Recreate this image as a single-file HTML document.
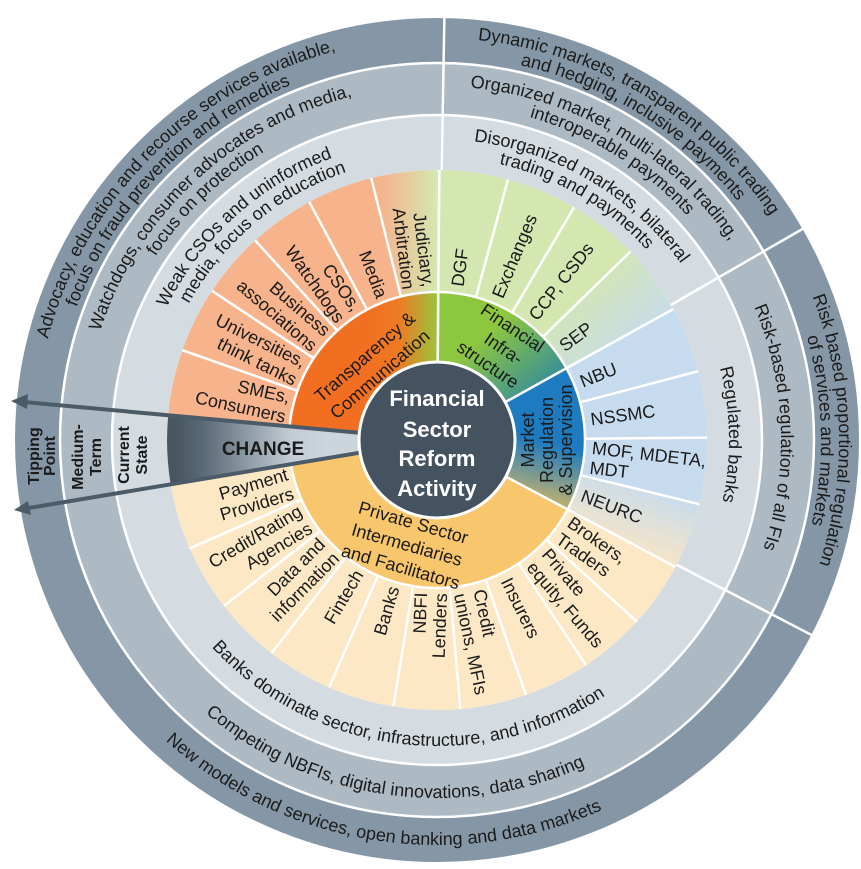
<!DOCTYPE html>
<html><head><meta charset="utf-8"><style>
html,body{margin:0;padding:0;background:#fff;}
svg{display:block;font-family:"Liberation Sans",sans-serif;}
.s{font-size:18px;fill:#1b1b1b;}
.r{font-size:18px;fill:#1b1b1b;}
.i{font-size:18px;fill:#1b1b1b;}
.w{font-size:16px;font-weight:bold;fill:#1b1b1b;}
</style></head><body>
<svg width="861" height="869" viewBox="0 0 861 869" xmlns="http://www.w3.org/2000/svg">
<defs>
<linearGradient id="gJud" gradientUnits="userSpaceOnUse" x1="-55" y1="0" x2="0" y2="0"><stop offset="0" stop-color="#f4b58e"/><stop offset="1" stop-color="#d4e7b0"/></linearGradient>
<linearGradient id="gSep" gradientUnits="userSpaceOnUse" x1="140" y1="-160" x2="205" y2="-90"><stop offset="0" stop-color="#d4e7b0"/><stop offset="1" stop-color="#c6dbee"/></linearGradient>
<linearGradient id="gNeu" gradientUnits="userSpaceOnUse" x1="205" y1="40" x2="180" y2="115"><stop offset="0" stop-color="#c6dbee"/><stop offset="1" stop-color="#fbe6c3"/></linearGradient>
<linearGradient id="gOr" gradientUnits="userSpaceOnUse" x1="-70" y1="0" x2="0" y2="0"><stop offset="0" stop-color="#f26f21"/><stop offset="0.45" stop-color="#ee7a24"/><stop offset="1" stop-color="#9cc23c"/></linearGradient>
<linearGradient id="gGr" gradientUnits="userSpaceOnUse" x1="60" y1="-115" x2="120" y2="-45"><stop offset="0" stop-color="#8dc63f"/><stop offset="1" stop-color="#2b86a6"/></linearGradient>
<linearGradient id="gBl" gradientUnits="userSpaceOnUse" x1="120" y1="5" x2="105" y2="65"><stop offset="0" stop-color="#1f7bc0"/><stop offset="1" stop-color="#c7b36a"/></linearGradient>
<linearGradient id="gCh" gradientUnits="userSpaceOnUse" x1="175" y1="0" x2="330" y2="0"><stop offset="0" stop-color="#47565f"/><stop offset="0.2" stop-color="#5d6d79"/><stop offset="0.75" stop-color="#c3ccd4"/><stop offset="1" stop-color="#cdd5dc"/></linearGradient>
<path id="cw402" d="M -402 0 A 402 402 0 1 1 402 0 A 402 402 0 1 1 -402 0"/>
<path id="cw384" d="M -384 0 A 384 384 0 1 1 384 0 A 384 384 0 1 1 -384 0"/>
<path id="cw354" d="M -354 0 A 354 354 0 1 1 354 0 A 354 354 0 1 1 -354 0"/>
<path id="cw336" d="M -336 0 A 336 336 0 1 1 336 0 A 336 336 0 1 1 -336 0"/>
<path id="cw301" d="M -301 0 A 301 301 0 1 1 301 0 A 301 301 0 1 1 -301 0"/>
<path id="cw283" d="M -283 0 A 283 283 0 1 1 283 0 A 283 283 0 1 1 -283 0"/>
<path id="cw344" d="M -344 0 A 344 344 0 1 1 344 0 A 344 344 0 1 1 -344 0"/>
<path id="cw292" d="M -292 0 A 292 292 0 1 1 292 0 A 292 292 0 1 1 -292 0"/>
<path id="ccw306" d="M -306 0 A 306 306 0 0 0 306 0"/>
<path id="ccw358" d="M -358 0 A 358 358 0 0 0 358 0"/>
<path id="ccw405" d="M -405 0 A 405 405 0 0 0 405 0"/>
</defs>
<g transform="translate(437,440)">
<circle r="400" fill="none" stroke="#8597a6" stroke-width="44"/>
<circle r="351" fill="none" stroke="#adb9c3" stroke-width="52"/>
<circle r="297.5" fill="none" stroke="#d5dce1" stroke-width="55"/>
<circle r="377" fill="none" stroke="#fff" stroke-width="2.5"/>
<circle r="325" fill="none" stroke="#fff" stroke-width="2.5"/>
<g stroke="#fff" stroke-width="2.5">
<line x1="268" x2="423" transform="rotate(271)"/>
<line x1="268" x2="423" transform="rotate(330)"/>
<line x1="268" x2="423" transform="rotate(27.5)"/>
</g>
<g fill="none" stroke-width="122">
<circle r="209" pathLength="360" stroke="#f7b48c" stroke-dasharray="70.6 289.4" stroke-dashoffset="-185.3"/>
<circle r="209" pathLength="360" stroke="url(#gJud)" stroke-dasharray="14.1 345.9" stroke-dashoffset="-255.9"/>
<circle r="209" pathLength="360" stroke="#d4e7b0" stroke-dasharray="45.75 314.25" stroke-dashoffset="-270"/>
<circle r="209" pathLength="360" stroke="url(#gSep)" stroke-dasharray="15.25 344.75" stroke-dashoffset="-315.75"/>
<circle r="209" pathLength="360" stroke="#c6dbee" stroke-dasharray="42.75 317.25" stroke-dashoffset="-331"/>
<circle r="209" pathLength="360" stroke="url(#gNeu)" stroke-dasharray="14.25 345.75" stroke-dashoffset="-13.75"/>
<circle r="209" pathLength="360" stroke="#fde8c6" stroke-dasharray="142.6 217.4" stroke-dashoffset="-28"/>
</g>
<g fill="none" stroke-width="70">
<circle r="113" pathLength="360" stroke="url(#gOr)" stroke-dasharray="84.7 275.3" stroke-dashoffset="-185.3"/>
<circle r="113" pathLength="360" stroke="url(#gGr)" stroke-dasharray="61 299" stroke-dashoffset="-270"/>
<circle r="113" pathLength="360" stroke="url(#gBl)" stroke-dasharray="57 303" stroke-dashoffset="-331"/>
<circle r="113" pathLength="360" stroke="#f8c66c" stroke-dasharray="142.6 217.4" stroke-dashoffset="-28"/>
</g>
<circle r="148" fill="none" stroke="#fff" stroke-width="2.5"/>
<g stroke="#fff" stroke-width="2.5">
<line x1="148" x2="270" transform="rotate(199.42)"/><line x1="148" x2="270" transform="rotate(213.54)"/><line x1="148" x2="270" transform="rotate(227.66)"/><line x1="148" x2="270" transform="rotate(241.78)"/><line x1="148" x2="270" transform="rotate(255.9)"/>
<line x1="148" x2="270" transform="rotate(285.25)"/><line x1="148" x2="270" transform="rotate(300.5)"/><line x1="148" x2="270" transform="rotate(315.75)"/>
<line x1="148" x2="270" transform="rotate(345.25)"/><line x1="148" x2="270" transform="rotate(359.5)"/><line x1="148" x2="270" transform="rotate(373.75)"/>
<line x1="148" x2="270" transform="rotate(42.26)"/><line x1="148" x2="270" transform="rotate(56.52)"/><line x1="148" x2="270" transform="rotate(70.78)"/><line x1="148" x2="270" transform="rotate(85.04)"/><line x1="148" x2="270" transform="rotate(99.3)"/><line x1="148" x2="270" transform="rotate(113.56)"/><line x1="148" x2="270" transform="rotate(127.82)"/><line x1="148" x2="270" transform="rotate(142.08)"/><line x1="148" x2="270" transform="rotate(156.34)"/>
<line x1="76" x2="270" transform="rotate(270.5)"/><line x1="76" x2="270" transform="rotate(331)"/><line x1="76" x2="270" transform="rotate(28)"/>
</g>

<g class="r" text-anchor="middle">
<text><textPath href="#cw402" startOffset="12.5%">Advocacy, education and recourse services available,</textPath></text>
<text><textPath href="#cw384" startOffset="12.2%">focus on fraud prevention and remedies</textPath></text>
<text><textPath href="#cw354" startOffset="13.06%">Watchdogs, consumer advocates and media,</textPath></text>
<text><textPath href="#cw336" startOffset="12.8%">focus on protection</textPath></text>
<text><textPath href="#cw301" startOffset="13.3%">Weak CSOs and uninformed</textPath></text>
<text><textPath href="#cw283" startOffset="13.9%">media, focus on education</textPath></text>
<text><textPath href="#cw402" startOffset="33.6%">Dynamic markets, transparent public trading</textPath></text>
<text><textPath href="#cw384" startOffset="33.9%">and hedging, inclusive payments</textPath></text>
<text><textPath href="#cw354" startOffset="33.5%">Organized market, multi-lateral trading,</textPath></text>
<text><textPath href="#cw336" startOffset="33.9%">interoperable payments</textPath></text>
<text><textPath href="#cw301" startOffset="33.5%">Disorganized markets, bilateral</textPath></text>
<text><textPath href="#cw283" startOffset="33.4%">trading and payments</textPath></text>
<text><textPath href="#cw402" startOffset="49.6%">Risk based proportional regulation</textPath></text>
<text><textPath href="#cw384" startOffset="49.6%">of services and markets</textPath></text>
<text><textPath href="#cw344" startOffset="49.4%">Risk-based regulation of all FIs</textPath></text>
<text><textPath href="#cw292" startOffset="49.7%">Regulated banks</textPath></text>
<text><textPath href="#ccw306" startOffset="46.1%">Banks dominate sector, infrastructure, and information</textPath></text>
<text><textPath href="#ccw358" startOffset="45.6%">Competing NBFIs, digital innovations, data sharing</textPath></text>
<text><textPath href="#ccw405" startOffset="45%">New models and services, open banking and data markets</textPath></text>
</g>

<g class="s" text-anchor="end">
<text transform="rotate(12.4)"><tspan x="-153" y="-4">SMEs,</tspan><tspan x="-153" y="16">Consumers</tspan></text>
<text transform="rotate(26.5)"><tspan x="-153" y="-4">Universities,</tspan><tspan x="-153" y="16">think tanks</tspan></text>
<text transform="rotate(40.7)"><tspan x="-153" y="-4">Business</tspan><tspan x="-153" y="16">associations</tspan></text>
<text transform="rotate(54.8)"><tspan x="-153" y="-4">CSOs,</tspan><tspan x="-153" y="16">Watchdogs</tspan></text>
<text transform="rotate(68.9)"><tspan x="-153" y="6">Media</tspan></text>
<text transform="rotate(83)"><tspan x="-153" y="-4">Judiciary,</tspan><tspan x="-153" y="16">Arbitration</tspan></text>
<text transform="rotate(272.2)"><tspan x="-153" y="-4">NBFI</tspan><tspan x="-153" y="16">Lenders</tspan></text>
<text transform="rotate(286.4)"><tspan x="-153" y="6">Banks</tspan></text>
<text transform="rotate(300.7)"><tspan x="-153" y="6">Fintech</tspan></text>
<text transform="rotate(314.9)"><tspan x="-153" y="-4">Data and</tspan><tspan x="-153" y="16">information</tspan></text>
<text transform="rotate(329.2)"><tspan x="-153" y="-4">Credit/Rating</tspan><tspan x="-153" y="16">Agencies</tspan></text>
<text transform="rotate(343.4)"><tspan x="-153" y="-4">Payment</tspan><tspan x="-153" y="16">Providers</tspan></text>
</g>
<g class="s" text-anchor="start">
<text transform="rotate(277.6)"><tspan x="155" y="6">DGF</tspan></text>
<text transform="rotate(292.9)"><tspan x="155" y="6">Exchanges</tspan></text>
<text transform="rotate(308.1)"><tspan x="155" y="6">CCP, CSDs</tspan></text>
<text transform="rotate(323.4)"><tspan x="155" y="6">SEP</tspan></text>
<text transform="rotate(338.1)"><tspan x="155" y="6">NBU</tspan></text>
<text transform="rotate(352.4)"><tspan x="155" y="6">NSSMC</tspan></text>
<text transform="rotate(6.6)"><tspan x="155" y="-4">MOF, MDETA,</tspan><tspan x="155" y="16">MDT</tspan></text>
<text transform="rotate(20.9)"><tspan x="155" y="6">NEURC</tspan></text>
<text transform="rotate(35.1)"><tspan x="155" y="-4">Brokers,</tspan><tspan x="155" y="16">Traders</tspan></text>
<text transform="rotate(49.4)"><tspan x="155" y="-4">Private</tspan><tspan x="155" y="16">equity, Funds</tspan></text>
<text transform="rotate(63.6)"><tspan x="155" y="6">Insurers</tspan></text>
<text transform="rotate(77.9)"><tspan x="155" y="-4">Credit</tspan><tspan x="155" y="16">unions, MFIs</tspan></text>
</g>

<g class="i" text-anchor="middle">
<text transform="rotate(319)"><tspan x="0" y="-104">Transparency &amp;</tspan><tspan x="0" y="-81">Communication</tspan></text>
<text transform="rotate(34)"><tspan x="0" y="-129">Financial</tspan><tspan x="4" y="-107">Infra-</tspan><tspan x="0" y="-85">structure</tspan></text>
<text transform="rotate(-90)"><tspan x="0" y="97">Market</tspan><tspan x="0" y="116">Regulation</tspan><tspan x="0" y="135">&amp; Supervision</tspan></text>
<text transform="rotate(16)"><tspan x="0" y="92">Private Sector</tspan><tspan x="0" y="115">Intermediaries</tspan><tspan x="0" y="138">and Facilitators</tspan></text>
</g>
</g>

<path d="M 170.6 484.1 L 437 440 L 168.2 415.1 A 270 270 0 0 0 170.6 484.1 Z" fill="url(#gCh)"/>
<g stroke="#4b5c68" stroke-width="4" fill="none">
<line x1="400" y1="436.5" x2="24" y2="402"/>
<line x1="400" y1="446" x2="26" y2="508.5"/>
</g>
<polygon points="11,401 28,394 27,409" fill="#4b5c68"/>
<polygon points="14,510 28,501 31,515" fill="#4b5c68"/>

<circle cx="437" cy="440" r="78" fill="#44535f" stroke="#fff" stroke-width="3"/>
<g font-weight="bold" font-size="22" fill="#fff" text-anchor="middle">
<text x="437" y="406">Financial</text>
<text x="437" y="437">Sector</text>
<text x="437" y="466">Reform</text>
<text x="437" y="496">Activity</text>
</g>
<text x="263" y="455" text-anchor="middle" font-weight="bold" font-size="19" fill="#1b1b1b">CHANGE</text>
<text class="w" text-anchor="middle" transform="translate(39,456) rotate(-90)"><tspan x="0" y="0">Tipping</tspan><tspan x="0" y="16">Point</tspan></text>
<text class="w" text-anchor="middle" transform="translate(83,457) rotate(-90)"><tspan x="0" y="0">Medium-</tspan><tspan x="0" y="18">Term</tspan></text>
<text class="w" text-anchor="middle" transform="translate(129,455) rotate(-90)"><tspan x="0" y="0">Current</tspan><tspan x="0" y="18">State</tspan></text>
</svg>
</body></html>
